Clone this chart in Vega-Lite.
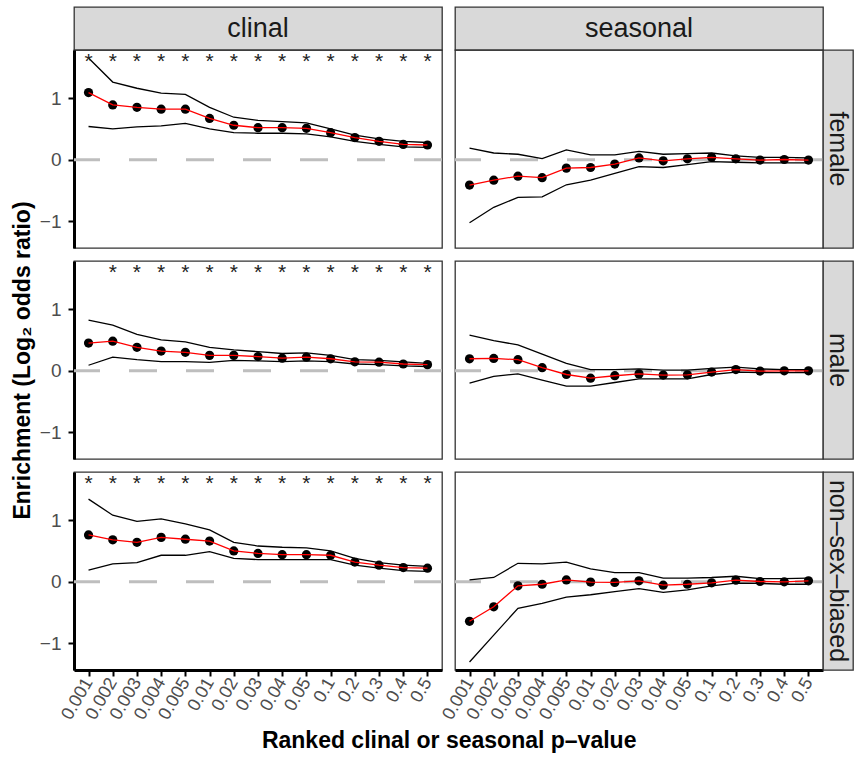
{
  "$schema": "https://vega.github.io/schema/vega-lite/v6.json",
  "padding": {"left": 10, "top": 6, "right": 0, "bottom": 0},
  "background": "white",
  "title": {"text": "Ranked clinal or seasonal p–value", "orient": "bottom", "anchor": "middle", "fontSize": 23, "fontWeight": "bold", "color": "#000000", "offset": 7, "dx": 17},
  "data": {"values": [
    {"sex":"female","test":"clinal","p":"0.001","est":1.09,"lo":0.54,"hi":1.65,"star":"*"},
    {"sex":"female","test":"clinal","p":"0.002","est":0.89,"lo":0.50,"hi":1.26,"star":"*"},
    {"sex":"female","test":"clinal","p":"0.003","est":0.85,"lo":0.535,"hi":1.16,"star":"*"},
    {"sex":"female","test":"clinal","p":"0.004","est":0.82,"lo":0.55,"hi":1.08,"star":"*"},
    {"sex":"female","test":"clinal","p":"0.005","est":0.82,"lo":0.59,"hi":1.06,"star":"*"},
    {"sex":"female","test":"clinal","p":"0.01","est":0.67,"lo":0.50,"hi":0.85,"star":"*"},
    {"sex":"female","test":"clinal","p":"0.02","est":0.56,"lo":0.44,"hi":0.69,"star":"*"},
    {"sex":"female","test":"clinal","p":"0.03","est":0.52,"lo":0.43,"hi":0.64,"star":"*"},
    {"sex":"female","test":"clinal","p":"0.04","est":0.52,"lo":0.43,"hi":0.62,"star":"*"},
    {"sex":"female","test":"clinal","p":"0.05","est":0.51,"lo":0.42,"hi":0.60,"star":"*"},
    {"sex":"female","test":"clinal","p":"0.1","est":0.44,"lo":0.37,"hi":0.50,"star":"*"},
    {"sex":"female","test":"clinal","p":"0.2","est":0.36,"lo":0.30,"hi":0.40,"star":"*"},
    {"sex":"female","test":"clinal","p":"0.3","est":0.30,"lo":0.25,"hi":0.34,"star":"*"},
    {"sex":"female","test":"clinal","p":"0.4","est":0.25,"lo":0.21,"hi":0.30,"star":"*"},
    {"sex":"female","test":"clinal","p":"0.5","est":0.24,"lo":0.20,"hi":0.28,"star":"*"},
    {"sex":"female","test":"seasonal","p":"0.001","est":-0.41,"lo":-1.02,"hi":0.19,"star":""},
    {"sex":"female","test":"seasonal","p":"0.002","est":-0.33,"lo":-0.77,"hi":0.11,"star":""},
    {"sex":"female","test":"seasonal","p":"0.003","est":-0.265,"lo":-0.61,"hi":0.09,"star":""},
    {"sex":"female","test":"seasonal","p":"0.004","est":-0.29,"lo":-0.60,"hi":0.02,"star":""},
    {"sex":"female","test":"seasonal","p":"0.005","est":-0.135,"lo":-0.405,"hi":0.16,"star":""},
    {"sex":"female","test":"seasonal","p":"0.01","est":-0.125,"lo":-0.33,"hi":0.08,"star":""},
    {"sex":"female","test":"seasonal","p":"0.02","est":-0.07,"lo":-0.22,"hi":0.08,"star":""},
    {"sex":"female","test":"seasonal","p":"0.03","est":0.03,"lo":-0.11,"hi":0.135,"star":""},
    {"sex":"female","test":"seasonal","p":"0.04","est":-0.016,"lo":-0.125,"hi":0.09,"star":""},
    {"sex":"female","test":"seasonal","p":"0.05","est":0.016,"lo":-0.08,"hi":0.10,"star":""},
    {"sex":"female","test":"seasonal","p":"0.1","est":0.04,"lo":-0.03,"hi":0.11,"star":""},
    {"sex":"female","test":"seasonal","p":"0.2","est":0.016,"lo":-0.04,"hi":0.065,"star":""},
    {"sex":"female","test":"seasonal","p":"0.3","est":-0.005,"lo":-0.05,"hi":0.04,"star":""},
    {"sex":"female","test":"seasonal","p":"0.4","est":0.005,"lo":-0.05,"hi":0.04,"star":""},
    {"sex":"female","test":"seasonal","p":"0.5","est":-0.005,"lo":-0.05,"hi":0.03,"star":""},
    {"sex":"male","test":"clinal","p":"0.001","est":0.45,"lo":0.09,"hi":0.82,"star":""},
    {"sex":"male","test":"clinal","p":"0.002","est":0.48,"lo":0.22,"hi":0.74,"star":"*"},
    {"sex":"male","test":"clinal","p":"0.003","est":0.38,"lo":0.18,"hi":0.59,"star":"*"},
    {"sex":"male","test":"clinal","p":"0.004","est":0.32,"lo":0.15,"hi":0.50,"star":"*"},
    {"sex":"male","test":"clinal","p":"0.005","est":0.30,"lo":0.15,"hi":0.47,"star":"*"},
    {"sex":"male","test":"clinal","p":"0.01","est":0.25,"lo":0.135,"hi":0.38,"star":"*"},
    {"sex":"male","test":"clinal","p":"0.02","est":0.25,"lo":0.17,"hi":0.34,"star":"*"},
    {"sex":"male","test":"clinal","p":"0.03","est":0.23,"lo":0.16,"hi":0.31,"star":"*"},
    {"sex":"male","test":"clinal","p":"0.04","est":0.205,"lo":0.15,"hi":0.28,"star":"*"},
    {"sex":"male","test":"clinal","p":"0.05","est":0.22,"lo":0.16,"hi":0.29,"star":"*"},
    {"sex":"male","test":"clinal","p":"0.1","est":0.195,"lo":0.15,"hi":0.25,"star":"*"},
    {"sex":"male","test":"clinal","p":"0.2","est":0.146,"lo":0.11,"hi":0.18,"star":"*"},
    {"sex":"male","test":"clinal","p":"0.3","est":0.14,"lo":0.10,"hi":0.17,"star":"*"},
    {"sex":"male","test":"clinal","p":"0.4","est":0.11,"lo":0.08,"hi":0.146,"star":"*"},
    {"sex":"male","test":"clinal","p":"0.5","est":0.10,"lo":0.07,"hi":0.12,"star":"*"},
    {"sex":"male","test":"seasonal","p":"0.001","est":0.195,"lo":-0.20,"hi":0.58,"star":""},
    {"sex":"male","test":"seasonal","p":"0.002","est":0.20,"lo":-0.09,"hi":0.49,"star":""},
    {"sex":"male","test":"seasonal","p":"0.003","est":0.18,"lo":-0.05,"hi":0.42,"star":""},
    {"sex":"male","test":"seasonal","p":"0.004","est":0.05,"lo":-0.15,"hi":0.27,"star":""},
    {"sex":"male","test":"seasonal","p":"0.005","est":-0.06,"lo":-0.25,"hi":0.12,"star":""},
    {"sex":"male","test":"seasonal","p":"0.01","est":-0.12,"lo":-0.25,"hi":0.02,"star":""},
    {"sex":"male","test":"seasonal","p":"0.02","est":-0.08,"lo":-0.19,"hi":0.02,"star":""},
    {"sex":"male","test":"seasonal","p":"0.03","est":-0.05,"lo":-0.13,"hi":0.03,"star":""},
    {"sex":"male","test":"seasonal","p":"0.04","est":-0.07,"lo":-0.13,"hi":0.01,"star":""},
    {"sex":"male","test":"seasonal","p":"0.05","est":-0.065,"lo":-0.13,"hi":0.01,"star":""},
    {"sex":"male","test":"seasonal","p":"0.1","est":-0.02,"lo":-0.06,"hi":0.04,"star":""},
    {"sex":"male","test":"seasonal","p":"0.2","est":0.02,"lo":-0.02,"hi":0.06,"star":""},
    {"sex":"male","test":"seasonal","p":"0.3","est":-0.005,"lo":-0.03,"hi":0.03,"star":""},
    {"sex":"male","test":"seasonal","p":"0.4","est":0.0,"lo":-0.03,"hi":0.02,"star":""},
    {"sex":"male","test":"seasonal","p":"0.5","est":0.0,"lo":-0.03,"hi":0.02,"star":""},
    {"sex":"non–sex–biased","test":"clinal","p":"0.001","est":0.76,"lo":0.19,"hi":1.34,"star":"*"},
    {"sex":"non–sex–biased","test":"clinal","p":"0.002","est":0.68,"lo":0.29,"hi":1.08,"star":"*"},
    {"sex":"non–sex–biased","test":"clinal","p":"0.003","est":0.64,"lo":0.31,"hi":0.98,"star":"*"},
    {"sex":"non–sex–biased","test":"clinal","p":"0.004","est":0.72,"lo":0.43,"hi":1.02,"star":"*"},
    {"sex":"non–sex–biased","test":"clinal","p":"0.005","est":0.69,"lo":0.43,"hi":0.94,"star":"*"},
    {"sex":"non–sex–biased","test":"clinal","p":"0.01","est":0.66,"lo":0.49,"hi":0.84,"star":"*"},
    {"sex":"non–sex–biased","test":"clinal","p":"0.02","est":0.50,"lo":0.38,"hi":0.64,"star":"*"},
    {"sex":"non–sex–biased","test":"clinal","p":"0.03","est":0.46,"lo":0.36,"hi":0.58,"star":"*"},
    {"sex":"non–sex–biased","test":"clinal","p":"0.04","est":0.44,"lo":0.36,"hi":0.56,"star":"*"},
    {"sex":"non–sex–biased","test":"clinal","p":"0.05","est":0.44,"lo":0.36,"hi":0.55,"star":"*"},
    {"sex":"non–sex–biased","test":"clinal","p":"0.1","est":0.43,"lo":0.36,"hi":0.50,"star":"*"},
    {"sex":"non–sex–biased","test":"clinal","p":"0.2","est":0.32,"lo":0.27,"hi":0.38,"star":"*"},
    {"sex":"non–sex–biased","test":"clinal","p":"0.3","est":0.27,"lo":0.22,"hi":0.31,"star":"*"},
    {"sex":"non–sex–biased","test":"clinal","p":"0.4","est":0.23,"lo":0.18,"hi":0.27,"star":"*"},
    {"sex":"non–sex–biased","test":"clinal","p":"0.5","est":0.22,"lo":0.17,"hi":0.25,"star":"*"},
    {"sex":"non–sex–biased","test":"seasonal","p":"0.001","est":-0.64,"lo":-1.30,"hi":0.03,"star":""},
    {"sex":"non–sex–biased","test":"seasonal","p":"0.002","est":-0.405,"lo":-0.865,"hi":0.07,"star":""},
    {"sex":"non–sex–biased","test":"seasonal","p":"0.003","est":-0.065,"lo":-0.43,"hi":0.30,"star":""},
    {"sex":"non–sex–biased","test":"seasonal","p":"0.004","est":-0.04,"lo":-0.35,"hi":0.29,"star":""},
    {"sex":"non–sex–biased","test":"seasonal","p":"0.005","est":0.03,"lo":-0.25,"hi":0.32,"star":""},
    {"sex":"non–sex–biased","test":"seasonal","p":"0.01","est":-0.005,"lo":-0.21,"hi":0.21,"star":""},
    {"sex":"non–sex–biased","test":"seasonal","p":"0.02","est":-0.01,"lo":-0.16,"hi":0.15,"star":""},
    {"sex":"non–sex–biased","test":"seasonal","p":"0.03","est":0.016,"lo":-0.11,"hi":0.15,"star":""},
    {"sex":"non–sex–biased","test":"seasonal","p":"0.04","est":-0.055,"lo":-0.17,"hi":0.06,"star":""},
    {"sex":"non–sex–biased","test":"seasonal","p":"0.05","est":-0.04,"lo":-0.13,"hi":0.06,"star":""},
    {"sex":"non–sex–biased","test":"seasonal","p":"0.1","est":-0.016,"lo":-0.065,"hi":0.07,"star":""},
    {"sex":"non–sex–biased","test":"seasonal","p":"0.2","est":0.027,"lo":-0.02,"hi":0.09,"star":""},
    {"sex":"non–sex–biased","test":"seasonal","p":"0.3","est":0.005,"lo":-0.027,"hi":0.05,"star":""},
    {"sex":"non–sex–biased","test":"seasonal","p":"0.4","est":0.0,"lo":-0.04,"hi":0.05,"star":""},
    {"sex":"non–sex–biased","test":"seasonal","p":"0.5","est":0.016,"lo":-0.04,"hi":0.06,"star":""}
  ]},
  "columns": 4,
  "spacing": 0,
  "bounds": "flush",
  "align": "each",
  "concat": [
    {"width": 368, "height": 43, "data": {"values": [{"label": "clinal"}]}, "mark": {"type": "text", "fontSize": 27, "color": "#1a1a1a"}, "encoding": {"text": {"field": "label"}}, "view": {"fill": "#d9d9d9", "stroke": "#333333", "strokeWidth": 1.3}},
    {"width": 13, "height": 13, "data": {"values": [{"label": ""}]}, "mark": {"type": "text"}, "encoding": {"text": {"field": "label"}}, "view": {"stroke": null}},
    {"width": 368, "height": 43, "data": {"values": [{"label": "seasonal"}]}, "mark": {"type": "text", "fontSize": 27, "color": "#1a1a1a"}, "encoding": {"text": {"field": "label"}}, "view": {"fill": "#d9d9d9", "stroke": "#333333", "strokeWidth": 1.3}},
    {"width": 13, "height": 13, "data": {"values": [{"label": ""}]}, "mark": {"type": "text"}, "encoding": {"text": {"field": "label"}}, "view": {"stroke": null}},

    {"width": 368, "height": 198,
     "transform": [{"filter": "datum.sex === 'female' && datum.test === 'clinal'"}],
     "layer": [
      {"transform": [{"filter": "datum.p === '0.001'"}], "mark": {"type": "rule", "color": "#bebebe", "strokeWidth": 3, "strokeDash": [28, 29]}, "encoding": {"y": {"datum": 0, "type": "quantitative", "scale": {"domain": [-1.43, 1.78], "nice": false, "zero": false}, "axis": {"values": [-1, 0, 1], "title": null}}}},
      {"mark": {"type": "line", "color": "#000000", "strokeWidth": 1.3}, "encoding": {"x": {"field": "p", "type": "ordinal", "sort": null, "axis": null}, "y": {"field": "hi", "type": "quantitative", "scale": {"domain": [-1.43, 1.78], "nice": false, "zero": false}, "axis": {"values": [-1, 0, 1], "title": null}}}},
      {"mark": {"type": "line", "color": "#000000", "strokeWidth": 1.3}, "encoding": {"x": {"field": "p", "type": "ordinal", "sort": null, "axis": null}, "y": {"field": "lo", "type": "quantitative", "scale": {"domain": [-1.43, 1.78], "nice": false, "zero": false}, "axis": {"values": [-1, 0, 1], "title": null}}}},
      {"mark": {"type": "circle", "size": 85, "color": "#000000", "opacity": 1}, "encoding": {"x": {"field": "p", "type": "ordinal", "sort": null, "axis": null}, "y": {"field": "est", "type": "quantitative", "scale": {"domain": [-1.43, 1.78], "nice": false, "zero": false}, "axis": {"values": [-1, 0, 1], "title": null}}}},
      {"mark": {"type": "line", "color": "#ff0000", "strokeWidth": 1.3}, "encoding": {"x": {"field": "p", "type": "ordinal", "sort": null, "axis": null}, "y": {"field": "est", "type": "quantitative", "scale": {"domain": [-1.43, 1.78], "nice": false, "zero": false}, "axis": {"values": [-1, 0, 1], "title": null}}}},
      {"mark": {"type": "text", "fontSize": 21, "color": "#222222", "baseline": "middle"}, "encoding": {"x": {"field": "p", "type": "ordinal", "sort": null, "axis": null}, "y": {"datum": 1.58, "type": "quantitative", "axis": {"values": [-1, 0, 1], "title": null}}, "text": {"field": "star"}}}
     ]},
    {"width": 13, "height": 13, "data": {"values": [{"label": ""}]}, "mark": {"type": "text"}, "encoding": {"text": {"field": "label"}}, "view": {"stroke": null}},
    {"width": 368, "height": 198,
     "transform": [{"filter": "datum.sex === 'female' && datum.test === 'seasonal'"}],
     "layer": [
      {"transform": [{"filter": "datum.p === '0.001'"}], "mark": {"type": "rule", "color": "#bebebe", "strokeWidth": 3, "strokeDash": [28, 29]}, "encoding": {"y": {"datum": 0, "type": "quantitative", "scale": {"domain": [-1.43, 1.78], "nice": false, "zero": false}, "axis": null}}},
      {"mark": {"type": "line", "color": "#000000", "strokeWidth": 1.3}, "encoding": {"x": {"field": "p", "type": "ordinal", "sort": null, "axis": null}, "y": {"field": "hi", "type": "quantitative", "scale": {"domain": [-1.43, 1.78], "nice": false, "zero": false}, "axis": null}}},
      {"mark": {"type": "line", "color": "#000000", "strokeWidth": 1.3}, "encoding": {"x": {"field": "p", "type": "ordinal", "sort": null, "axis": null}, "y": {"field": "lo", "type": "quantitative", "scale": {"domain": [-1.43, 1.78], "nice": false, "zero": false}, "axis": null}}},
      {"mark": {"type": "circle", "size": 85, "color": "#000000", "opacity": 1}, "encoding": {"x": {"field": "p", "type": "ordinal", "sort": null, "axis": null}, "y": {"field": "est", "type": "quantitative", "scale": {"domain": [-1.43, 1.78], "nice": false, "zero": false}, "axis": null}}},
      {"mark": {"type": "line", "color": "#ff0000", "strokeWidth": 1.3}, "encoding": {"x": {"field": "p", "type": "ordinal", "sort": null, "axis": null}, "y": {"field": "est", "type": "quantitative", "scale": {"domain": [-1.43, 1.78], "nice": false, "zero": false}, "axis": null}}}
     ]},
    {"width": 30, "height": 198, "data": {"values": [{"label": "female"}]}, "mark": {"type": "text", "fontSize": 25, "angle": 90, "color": "#1a1a1a"}, "encoding": {"text": {"field": "label"}}, "view": {"fill": "#d9d9d9", "stroke": "#333333", "strokeWidth": 1.3}},

    {"width": 13, "height": 13, "data": {"values": [{"label": ""}]}, "mark": {"type": "text"}, "encoding": {"text": {"field": "label"}}, "view": {"stroke": null}},
    {"width": 13, "height": 13, "data": {"values": [{"label": ""}]}, "mark": {"type": "text"}, "encoding": {"text": {"field": "label"}}, "view": {"stroke": null}},
    {"width": 13, "height": 13, "data": {"values": [{"label": ""}]}, "mark": {"type": "text"}, "encoding": {"text": {"field": "label"}}, "view": {"stroke": null}},
    {"width": 13, "height": 13, "data": {"values": [{"label": ""}]}, "mark": {"type": "text"}, "encoding": {"text": {"field": "label"}}, "view": {"stroke": null}},

    {"width": 368, "height": 198,
     "transform": [{"filter": "datum.sex === 'male' && datum.test === 'clinal'"}],
     "layer": [
      {"transform": [{"filter": "datum.p === '0.001'"}], "mark": {"type": "rule", "color": "#bebebe", "strokeWidth": 3, "strokeDash": [28, 29]}, "encoding": {"y": {"datum": 0, "type": "quantitative", "scale": {"domain": [-1.43, 1.78], "nice": false, "zero": false}, "axis": {"values": [-1, 0, 1], "title": "Enrichment (Log₂ odds ratio)"}}}},
      {"mark": {"type": "line", "color": "#000000", "strokeWidth": 1.3}, "encoding": {"x": {"field": "p", "type": "ordinal", "sort": null, "axis": null}, "y": {"field": "hi", "type": "quantitative", "scale": {"domain": [-1.43, 1.78], "nice": false, "zero": false}, "axis": {"values": [-1, 0, 1], "title": "Enrichment (Log₂ odds ratio)"}}}},
      {"mark": {"type": "line", "color": "#000000", "strokeWidth": 1.3}, "encoding": {"x": {"field": "p", "type": "ordinal", "sort": null, "axis": null}, "y": {"field": "lo", "type": "quantitative", "scale": {"domain": [-1.43, 1.78], "nice": false, "zero": false}, "axis": {"values": [-1, 0, 1], "title": "Enrichment (Log₂ odds ratio)"}}}},
      {"mark": {"type": "circle", "size": 85, "color": "#000000", "opacity": 1}, "encoding": {"x": {"field": "p", "type": "ordinal", "sort": null, "axis": null}, "y": {"field": "est", "type": "quantitative", "scale": {"domain": [-1.43, 1.78], "nice": false, "zero": false}, "axis": {"values": [-1, 0, 1], "title": "Enrichment (Log₂ odds ratio)"}}}},
      {"mark": {"type": "line", "color": "#ff0000", "strokeWidth": 1.3}, "encoding": {"x": {"field": "p", "type": "ordinal", "sort": null, "axis": null}, "y": {"field": "est", "type": "quantitative", "scale": {"domain": [-1.43, 1.78], "nice": false, "zero": false}, "axis": {"values": [-1, 0, 1], "title": "Enrichment (Log₂ odds ratio)"}}}},
      {"mark": {"type": "text", "fontSize": 21, "color": "#222222", "baseline": "middle"}, "encoding": {"x": {"field": "p", "type": "ordinal", "sort": null, "axis": null}, "y": {"datum": 1.58, "type": "quantitative", "axis": {"values": [-1, 0, 1], "title": "Enrichment (Log₂ odds ratio)"}}, "text": {"field": "star"}}}
     ]},
    {"width": 13, "height": 13, "data": {"values": [{"label": ""}]}, "mark": {"type": "text"}, "encoding": {"text": {"field": "label"}}, "view": {"stroke": null}},
    {"width": 368, "height": 198,
     "transform": [{"filter": "datum.sex === 'male' && datum.test === 'seasonal'"}],
     "layer": [
      {"transform": [{"filter": "datum.p === '0.001'"}], "mark": {"type": "rule", "color": "#bebebe", "strokeWidth": 3, "strokeDash": [28, 29]}, "encoding": {"y": {"datum": 0, "type": "quantitative", "scale": {"domain": [-1.43, 1.78], "nice": false, "zero": false}, "axis": null}}},
      {"mark": {"type": "line", "color": "#000000", "strokeWidth": 1.3}, "encoding": {"x": {"field": "p", "type": "ordinal", "sort": null, "axis": null}, "y": {"field": "hi", "type": "quantitative", "scale": {"domain": [-1.43, 1.78], "nice": false, "zero": false}, "axis": null}}},
      {"mark": {"type": "line", "color": "#000000", "strokeWidth": 1.3}, "encoding": {"x": {"field": "p", "type": "ordinal", "sort": null, "axis": null}, "y": {"field": "lo", "type": "quantitative", "scale": {"domain": [-1.43, 1.78], "nice": false, "zero": false}, "axis": null}}},
      {"mark": {"type": "circle", "size": 85, "color": "#000000", "opacity": 1}, "encoding": {"x": {"field": "p", "type": "ordinal", "sort": null, "axis": null}, "y": {"field": "est", "type": "quantitative", "scale": {"domain": [-1.43, 1.78], "nice": false, "zero": false}, "axis": null}}},
      {"mark": {"type": "line", "color": "#ff0000", "strokeWidth": 1.3}, "encoding": {"x": {"field": "p", "type": "ordinal", "sort": null, "axis": null}, "y": {"field": "est", "type": "quantitative", "scale": {"domain": [-1.43, 1.78], "nice": false, "zero": false}, "axis": null}}}
     ]},
    {"width": 30, "height": 198, "data": {"values": [{"label": "male"}]}, "mark": {"type": "text", "fontSize": 25, "angle": 90, "color": "#1a1a1a"}, "encoding": {"text": {"field": "label"}}, "view": {"fill": "#d9d9d9", "stroke": "#333333", "strokeWidth": 1.3}},

    {"width": 13, "height": 13, "data": {"values": [{"label": ""}]}, "mark": {"type": "text"}, "encoding": {"text": {"field": "label"}}, "view": {"stroke": null}},
    {"width": 13, "height": 13, "data": {"values": [{"label": ""}]}, "mark": {"type": "text"}, "encoding": {"text": {"field": "label"}}, "view": {"stroke": null}},
    {"width": 13, "height": 13, "data": {"values": [{"label": ""}]}, "mark": {"type": "text"}, "encoding": {"text": {"field": "label"}}, "view": {"stroke": null}},
    {"width": 13, "height": 13, "data": {"values": [{"label": ""}]}, "mark": {"type": "text"}, "encoding": {"text": {"field": "label"}}, "view": {"stroke": null}},

    {"width": 368, "height": 198,
     "transform": [{"filter": "datum.sex === 'non–sex–biased' && datum.test === 'clinal'"}],
     "layer": [
      {"transform": [{"filter": "datum.p === '0.001'"}], "mark": {"type": "rule", "color": "#bebebe", "strokeWidth": 3, "strokeDash": [28, 29]}, "encoding": {"y": {"datum": 0, "type": "quantitative", "scale": {"domain": [-1.43, 1.78], "nice": false, "zero": false}, "axis": {"values": [-1, 0, 1], "title": null}}}},
      {"mark": {"type": "line", "color": "#000000", "strokeWidth": 1.3}, "encoding": {"x": {"field": "p", "type": "ordinal", "sort": null, "axis": {"title": null}}, "y": {"field": "hi", "type": "quantitative", "scale": {"domain": [-1.43, 1.78], "nice": false, "zero": false}, "axis": {"values": [-1, 0, 1], "title": null}}}},
      {"mark": {"type": "line", "color": "#000000", "strokeWidth": 1.3}, "encoding": {"x": {"field": "p", "type": "ordinal", "sort": null, "axis": {"title": null}}, "y": {"field": "lo", "type": "quantitative", "scale": {"domain": [-1.43, 1.78], "nice": false, "zero": false}, "axis": {"values": [-1, 0, 1], "title": null}}}},
      {"mark": {"type": "circle", "size": 85, "color": "#000000", "opacity": 1}, "encoding": {"x": {"field": "p", "type": "ordinal", "sort": null, "axis": {"title": null}}, "y": {"field": "est", "type": "quantitative", "scale": {"domain": [-1.43, 1.78], "nice": false, "zero": false}, "axis": {"values": [-1, 0, 1], "title": null}}}},
      {"mark": {"type": "line", "color": "#ff0000", "strokeWidth": 1.3}, "encoding": {"x": {"field": "p", "type": "ordinal", "sort": null, "axis": {"title": null}}, "y": {"field": "est", "type": "quantitative", "scale": {"domain": [-1.43, 1.78], "nice": false, "zero": false}, "axis": {"values": [-1, 0, 1], "title": null}}}},
      {"mark": {"type": "text", "fontSize": 21, "color": "#222222", "baseline": "middle"}, "encoding": {"x": {"field": "p", "type": "ordinal", "sort": null, "axis": {"title": null}}, "y": {"datum": 1.58, "type": "quantitative", "axis": {"values": [-1, 0, 1], "title": null}}, "text": {"field": "star"}}}
     ]},
    {"width": 13, "height": 13, "data": {"values": [{"label": ""}]}, "mark": {"type": "text"}, "encoding": {"text": {"field": "label"}}, "view": {"stroke": null}},
    {"width": 368, "height": 198,
     "transform": [{"filter": "datum.sex === 'non–sex–biased' && datum.test === 'seasonal'"}],
     "layer": [
      {"transform": [{"filter": "datum.p === '0.001'"}], "mark": {"type": "rule", "color": "#bebebe", "strokeWidth": 3, "strokeDash": [28, 29]}, "encoding": {"y": {"datum": 0, "type": "quantitative", "scale": {"domain": [-1.43, 1.78], "nice": false, "zero": false}, "axis": null}}},
      {"mark": {"type": "line", "color": "#000000", "strokeWidth": 1.3}, "encoding": {"x": {"field": "p", "type": "ordinal", "sort": null, "axis": {"title": null}}, "y": {"field": "hi", "type": "quantitative", "scale": {"domain": [-1.43, 1.78], "nice": false, "zero": false}, "axis": null}}},
      {"mark": {"type": "line", "color": "#000000", "strokeWidth": 1.3}, "encoding": {"x": {"field": "p", "type": "ordinal", "sort": null, "axis": {"title": null}}, "y": {"field": "lo", "type": "quantitative", "scale": {"domain": [-1.43, 1.78], "nice": false, "zero": false}, "axis": null}}},
      {"mark": {"type": "circle", "size": 85, "color": "#000000", "opacity": 1}, "encoding": {"x": {"field": "p", "type": "ordinal", "sort": null, "axis": {"title": null}}, "y": {"field": "est", "type": "quantitative", "scale": {"domain": [-1.43, 1.78], "nice": false, "zero": false}, "axis": null}}},
      {"mark": {"type": "line", "color": "#ff0000", "strokeWidth": 1.3}, "encoding": {"x": {"field": "p", "type": "ordinal", "sort": null, "axis": {"title": null}}, "y": {"field": "est", "type": "quantitative", "scale": {"domain": [-1.43, 1.78], "nice": false, "zero": false}, "axis": null}}}
     ]},
    {"width": 30, "height": 198, "data": {"values": [{"label": "non–sex–biased"}]}, "mark": {"type": "text", "fontSize": 25, "angle": 90, "color": "#1a1a1a"}, "encoding": {"text": {"field": "label"}}, "view": {"fill": "#d9d9d9", "stroke": "#333333", "strokeWidth": 1.3}}
  ],
  "config": {
    "font": "Liberation Sans",
    "view": {"stroke": "#333333", "strokeWidth": 1.3},
    "scale": {"pointPadding": 0.6},
    "axis": {"grid": false, "domainColor": "#000000", "domainWidth": 3, "tickColor": "#000000", "tickWidth": 2, "tickSize": 6, "labelColor": "#4d4d4d", "titleColor": "#000000", "titleFontWeight": "bold"},
    "axisX": {"labelAngle": -60, "labelFontSize": 18, "labelPadding": 3},
    "axisY": {"labelFontSize": 19, "labelPadding": 7, "titleFontSize": 23, "titlePadding": 5}
  }
}
